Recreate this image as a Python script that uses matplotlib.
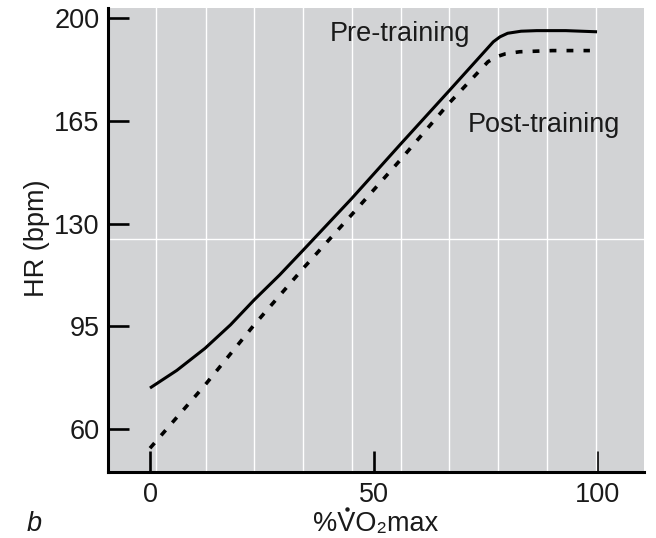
import numpy as np
import matplotlib
matplotlib.use('Agg')
import matplotlib.pyplot as plt
from matplotlib.lines import Line2D

plt.rcParams['font.family'] = ['Liberation Sans', 'DejaVu Sans']

# values
pre_x = [0, 6, 12.3, 18, 23.3, 29, 34.3, 38, 45.1, 55.9, 66.9, 76.8, 78.3, 80, 83, 86.5, 93, 100]
pre_hr = [74, 80, 87.5, 95.5, 104, 112.5, 121, 127, 138.5, 156.8, 175.2, 191.9, 193.6, 194.8, 195.5, 195.7, 195.7, 195.3]
post_x = [0, 6, 12.3, 23.3, 34.3, 45.1, 55.9, 66.9, 75.6, 77.5, 79.5, 82.7, 90, 98.4]
post_hr = [53.5, 64, 75, 95.5, 114.8, 133, 151.5, 171, 185.1, 186.8, 187.8, 188.5, 188.9, 188.9]

x_ticks = [0, 50, 100]
y_ticks = [60, 95, 130, 165, 200]
grid_x = [1.3, 12.5, 23.2, 34.2, 45.1, 56.1, 66.8, 77.8, 88.8, 99.7]
grid_y = [124.8]

fs = 19.5
W, H = 656, 538
fig = plt.figure(figsize=(6.56, 5.38), dpi=100)
ax = fig.add_axes([0.1646, 0.1227, 0.8171, 0.8624])
ax.set_facecolor('#d2d3d5')

ax.plot(pre_x, pre_hr, color='black', lw=2.2, solid_capstyle='butt', zorder=3)
ax.plot(post_x, post_hr, color='black', lw=2.6, dashes=(1.9, 2.8), zorder=3)

ax.set_xlim(-9.4, 110.5)
ax.set_ylim(45.4, 203.4)
ax.set_xticks(x_ticks)
ax.set_yticks(y_ticks)
ax.set_xticks(grid_x, minor=True)
ax.set_yticks(grid_y, minor=True)
ax.grid(which='minor', color='white', lw=1.0, zorder=1)
ax.set_axisbelow(True)

ax.tick_params(which='major', direction='in', length=15, width=1.9,
               labelsize=fs, color='black', labelcolor='#1a1a1a')
ax.tick_params(axis='y', which='major', pad=6)
ax.tick_params(axis='x', which='major', pad=7)
ax.tick_params(which='minor', length=0)

for s in ['top', 'right']:
    ax.spines[s].set_visible(False)
for s in ['left', 'bottom']:
    ax.spines[s].set_linewidth(2.2)

ax.text(40.2, 192.2, 'Pre-training', fontsize=fs, color='#1a1a1a', va='baseline', ha='left')
ax.text(71.1, 161.2, 'Post-training', fontsize=fs, color='#1a1a1a', va='baseline', ha='left')

fig.text(37/W, 1 - 238/H, 'HR (bpm)', rotation=90, fontsize=fs,
         color='#1a1a1a', ha='center', va='center')
xlab = fig.text(376/W, 1 - 531/H, '%VO\u2082max', fontsize=fs,
                color='#1a1a1a', ha='center', va='baseline')
fig.text(27/W, 1 - 531/H, 'b', fontsize=fs, style='italic',
         color='#1a1a1a', ha='left', va='baseline')

# dot over the V (flow rate sign), placed from measured text widths
r = fig.canvas.get_renderer()
def text_w(s):
    t = fig.text(0, 0, s, fontsize=fs)
    w = t.get_window_extent(r).width
    t.remove()
    return w
left = xlab.get_window_extent(r).x0
v_mid = left + (text_w('%') + text_w('%V')) / 2
fig.add_artist(Line2D([v_mid / W], [1 - 509/H], marker='o', markersize=2.2,
                      color='#1a1a1a', linestyle='none', transform=fig.transFigure))

fig.savefig('out.png', dpi=100)
